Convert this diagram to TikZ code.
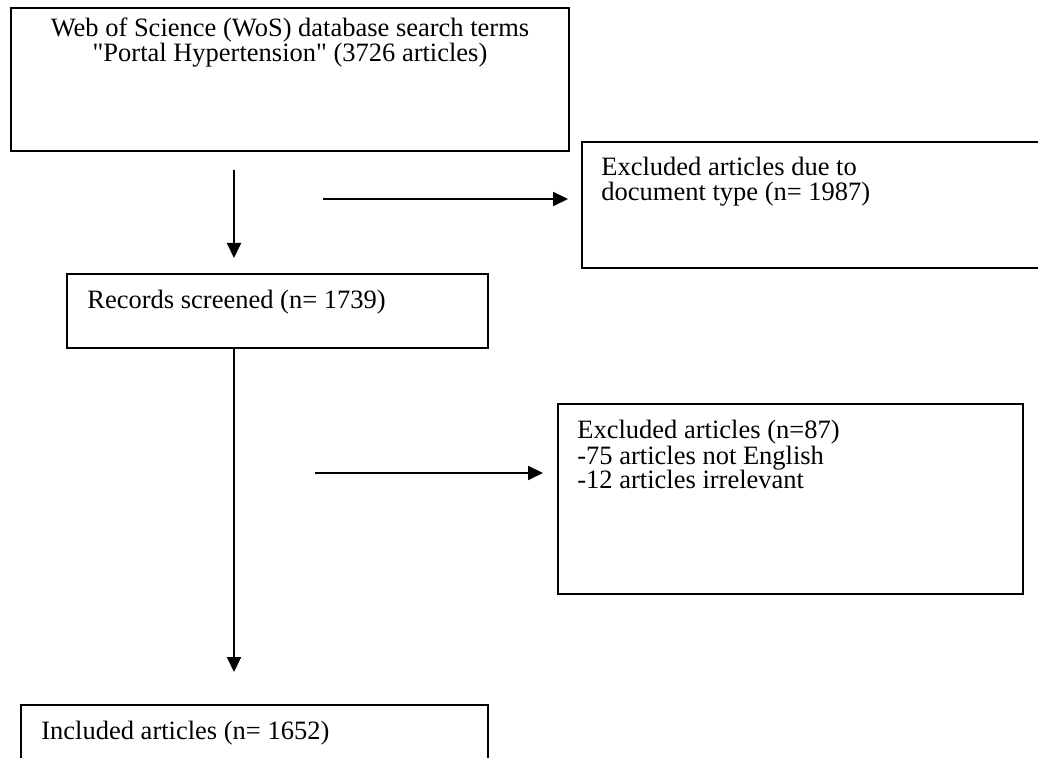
\documentclass[tikz,border=0pt]{standalone}
\usepackage{fontspec}
\setmainfont{Liberation Serif}[Ligatures=TeXOff]
\usetikzlibrary{arrows.meta, positioning, calc}

\begin{document}
\begin{tikzpicture}[
    x=0.5pt, y=-0.5pt,
    box/.style={draw, line width=1pt, rectangle, anchor=north west, inner sep=0pt},
    txt/.style={inner sep=0pt, align=left, font=\fontsize{13.25pt}{12.5pt}\selectfont},
    arrow/.style={line width=1pt, -{Triangle[length=7.5pt, width=7pt]}}
]
\clip (0,0) rectangle (1038,758);

% Boxes
\node[box, minimum width=279pt, minimum height=71.5pt] (search) at (10,7) {};
\node[box, minimum width=235pt, minimum height=63pt] (doctype) at (581,141) {};
\node[box, minimum width=210.5pt, minimum height=37pt] (screened) at (66,273) {};
\node[box, minimum width=232.5pt, minimum height=95pt] (excluded) at (557,403) {};
\node[box, minimum width=233.5pt, minimum height=50pt] (included) at (20,704) {};

% Texts (base = last line)
\node[txt, align=center, anchor=base] (searchtxt) at ([yshift=-27.5pt]search.north)
    {Web of Science (WoS) database search terms\\ "Portal Hypertension" (3726 articles)};
\node[txt, anchor=base west] (doctypetxt) at ([shift={(20,60)}]doctype.north west)
    {Excluded articles due to\\ document type (n= 1987)};
\node[txt, anchor=base west] (screenedtxt) at ([shift={(21,36)}]screened.north west)
    {Records screened (n= 1739)};
\node[txt, anchor=base west] (excludedtxt) at ([shift={(20,86)}]excluded.north west)
    {Excluded articles (n=87)\\ -75 articles not English\\ -12 articles irrelevant};
\node[txt, anchor=base west] (includedtxt) at ([shift={(21,35)}]included.north west)
    {Included articles (n= 1652)};

% Arrow ends
\coordinate (down1) at (234,170);
\coordinate (down1end) at (234,258);
\coordinate (side1) at (323,199);
\coordinate (side1end) at (568,199);
\coordinate (down2end) at (234,672);
\coordinate (side2) at (315,473);
\coordinate (side2end) at (543,473);

% Connections
\draw[arrow] (down1) -- (down1end);
\draw[arrow] (side1) -- (side1end);
\draw[arrow] (screened.south -| down1) -- (down2end);
\draw[arrow] (side2) -- (side2end);

\end{tikzpicture}
\end{document}
